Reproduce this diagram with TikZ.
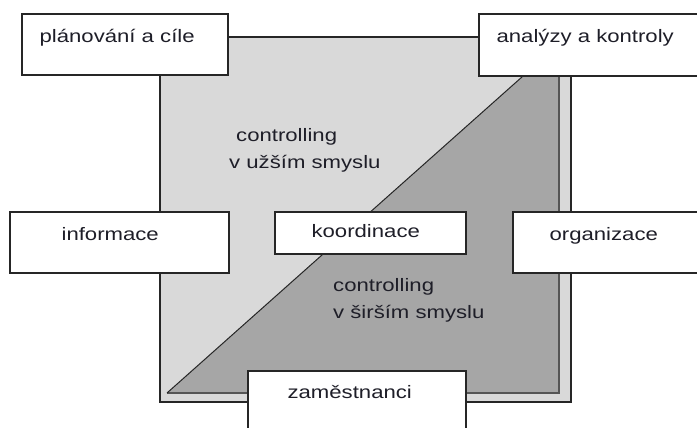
\documentclass[tikz,border=0pt]{standalone}
\usepackage{fontspec}
\setmainfont{Liberation Sans}[FakeStretch=1.23]
\usetikzlibrary{calc}
\definecolor{lightfill}{HTML}{D9D9D9}
\definecolor{darkfill}{HTML}{A6A6A6}
\definecolor{boxline}{HTML}{262626}
\definecolor{rimgray}{HTML}{555555}
\definecolor{ink}{HTML}{1E1E28}
\tikzset{
  box/.style={draw=boxline, line width=1.2pt, fill=white, rectangle, inner sep=0pt},
  lbl/.style={anchor=base west, inner sep=0pt, text=ink, font=\fontsize{18}{27}\selectfont},
}
\begin{document}
\begin{tikzpicture}[x=1pt, y=-1pt]
\useasboundingbox (0,0) rectangle (697,428);
\clip (0,0) rectangle (697,428);

% outer square
\draw[fill=lightfill, draw=boxline, line width=1.2pt] (160,37) rectangle (571,402);

% lower-right triangle
\fill[darkfill] (167,393) -- (559,393) -- (559,44) -- cycle;
\draw[rimgray, line width=2.2pt] (167,393) -- (559,393) -- (559,44);
\draw[boxline, line width=1pt] (167,393) -- (559,44);

% region labels (anchored on the baseline of their last line)
\node[lbl, align=left] (narrow) at (229,168) {\hspace{7pt}controlling\\v užším smyslu};
\node[lbl, align=left] (wide) at (333,318) {controlling\\v širším smyslu};

% boxes
\node[box, minimum width=206pt, minimum height=61pt] (plan) at (125,44.5) {};
\node[box, minimum width=226pt, minimum height=62pt] (anal) at (592,45) {};
\node[box, minimum width=219pt, minimum height=61pt] (info) at (119.5,242.5) {};
\node[box, minimum width=191pt, minimum height=42pt] (koord) at (370.5,233) {};
\node[box, minimum width=192pt, minimum height=61pt] (org) at (609,242.5) {};
\node[box, minimum width=218pt, minimum height=69pt] (zam) at (357,405.5) {};

% box texts
\node[lbl] (tplan) at ($(plan.north west)+(18,29)$) {plánování a cíle};
\node[lbl] (tanal) at ($(anal.north west)+(18,29)$) {analýzy a kontroly};
\node[lbl] (tinfo) at ($(info.north west)+(52,29)$) {informace};
\node[lbl] (tkoord) at ($(koord.north west)+(37,26)$) {koordinace};
\node[lbl] (torg) at ($(org.north west)+(37,29)$) {organizace};
\node[lbl] (tzam) at ($(zam.north west)+(40,28)$) {zaměstnanci};
\end{tikzpicture}
\end{document}
